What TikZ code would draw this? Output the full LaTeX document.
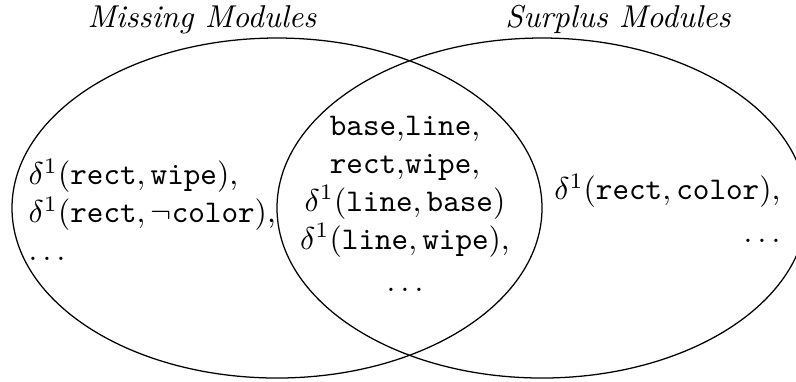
\documentclass[tikz,border=0pt]{standalone}
\begin{document}
\begin{tikzpicture}[x=0.3165pt, y=-0.3165pt,
  setline/.style={draw, line width=0.4pt},
  setlabel/.style={font=\itshape, inner sep=0pt, anchor=base},
  members/.style={inner sep=0pt}]
\useasboundingbox (0,0) rectangle (796,381);

% the two module sets
\draw[setline] (277,208) ellipse [x radius=265, y radius=170];
\draw[setline] (542,208) ellipse [x radius=265, y radius=170];

% set titles
\node[setlabel] (missingtitle) at (202,27) {Missing Modules};
\node[setlabel] (surplustitle) at (618,27) {Surplus Modules};

% members of each region
\node[members, anchor=west, align=left] (missing) at (28,210)
  {$\delta^1(\texttt{rect},\texttt{wipe})$,\\
   $\delta^1(\texttt{rect},\neg\texttt{color})$,\\
   $\ldots$};
\node[members, align=center] (common) at (405,204)
  {\texttt{base},\texttt{line},\\
   \texttt{rect},\texttt{wipe},\\
   $\delta^1(\texttt{line},\texttt{base})$\\
   $\delta^1(\texttt{line},\texttt{wipe})$,\\[1.5pt]
   $\ldots$};
\node[members, anchor=east, align=right] (surplus) at (781,208)
  {$\delta^1(\texttt{rect},\texttt{color})$,\\[1.5pt]
   $\ldots$};
\end{tikzpicture}
\end{document}
